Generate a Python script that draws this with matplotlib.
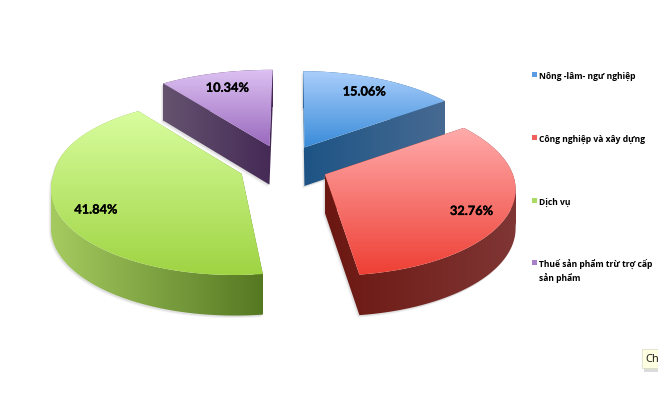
import numpy as np
import matplotlib
matplotlib.use("Agg")
import matplotlib.pyplot as plt
import matplotlib.patheffects as pe
from matplotlib.path import Path
from matplotlib.patches import PathPatch, Rectangle
from matplotlib.colors import to_rgb

# ---- data ----
labels = ["Nông -lâm- ngư nghiệp", "Công nghiệp và xây dựng", "Dịch vụ",
          "Thuế sản phẩm trừ trợ cấp\nsản phẩm"]
shares = [15.06, 32.76, 41.84, 10.34]
value_labels = ["15.06%", "32.76%", "41.84%", "10.34%"]

# ---- styles ----
top_light = ["#ABCFFC", "#FFABAB", "#D8FD9E", "#DDC2F2"]
top_deep = ["#3A8CD9", "#EE3F34", "#9FD443", "#9A69BE"]
side_left = ["#1D5485", "#6C1711", "#A5CB60", "#65536F"]
side_right = ["#476A92", "#7F3634", "#557822", "#442955"]
legend_col = ["#5B9BE6", "#F0605C", "#A9DC62", "#A77FCB"]
label_frac = [0.72, 0.86, 0.87, 0.72]
label_shift = [(4, -5), (-11, 5), (15, 6), (-2, -4)]
draw_order = [3, 0, 2, 1]

W, H = 658, 406
CX, CY = 283.5, 167.0      # pie centre in pixels
RX, RY = 188.0, 87.0       # ellipse radii
K = 0.14                   # perspective strength
SKEW = 0.08                # extra spread of the far-left quadrant
DEPTH = 38.5
EXPLODE = 0.24
START = 89.5               # degrees, going clockwise

fig = plt.figure(figsize=(W / 100, H / 100), dpi=100, facecolor="white")
ax = fig.add_axes([0, 0, 1, 1])
ax.set_xlim(0, W)
ax.set_ylim(H, 0)
ax.axis("off")


def project(apex, t, r=1.0, z=0.0):
    s = np.sin(t)
    c = np.cos(t)
    p = 1.0 / (1.0 + K * r * s)
    c = np.where(c < 0, c * (1 + SKEW * np.maximum(s, 0)), c)
    return (CX + (apex[0] - CX + RX * r * c) * p,
            apex[1] - RY * r * s * p + z * DEPTH * p ** 0.35)


def quads_path(a, b):
    verts, codes = [], []
    for i in range(len(a) - 1):
        q = np.array([a[i], a[i + 1], b[i + 1], b[i]])
        area = 0.5 * np.sum(q[:, 0] * np.roll(q[:, 1], -1) - np.roll(q[:, 0], -1) * q[:, 1])
        if area < 0:
            q = q[::-1]
        verts += [*q, q[0]]
        codes += [Path.MOVETO, Path.LINETO, Path.LINETO, Path.LINETO, Path.CLOSEPOLY]
    return Path(np.array(verts), codes)


def gradient(path, c0, c1, horizontal, extent, zorder):
    c0, c1 = np.array(to_rgb(c0)), np.array(to_rgb(c1))
    f = np.linspace(0, 1, 256)[:, None]
    img = (c0 * (1 - f) + c1 * f)[None, :, :] if horizontal else (c0 * (1 - f) + c1 * f)[:, None, :]
    im = ax.imshow(img, extent=extent, origin="upper", aspect="auto",
                   interpolation="bilinear", zorder=zorder)
    clip = PathPatch(path, transform=ax.transData, fc="none", ec="none", zorder=zorder)
    ax.add_patch(clip)
    im.set_clip_path(clip)


fractions = np.array(shares) / sum(shares)
ends = np.radians(START) - 2 * np.pi * np.cumsum(fractions)
starts = ends + 2 * np.pi * fractions

slices = []
for i in range(len(shares)):
    mid = 0.5 * (starts[i] + ends[i])
    apex = (CX + EXPLODE * RX * np.cos(mid), CY - EXPLODE * RY * np.sin(mid))
    slices.append((apex, mid))

bold = [pe.withStroke(linewidth=0.2, foreground="black")]

for rank, i in enumerate(draw_order):
    apex, mid = slices[i]
    t0, t1 = starts[i], ends[i]
    ta = np.linspace(t0, t1, 120)
    e1 = np.linspace(0, 1, 20)
    ts = np.concatenate([np.full(20, t0), ta, np.full(20, t1)])
    rs = np.concatenate([e1, np.ones(120), e1[::-1]])
    xt, yt = project(apex, ts, rs, 0)
    xb, yb = project(apex, ts, rs, 1)
    top = np.column_stack([xt, yt])
    bot = np.column_stack([xb, yb])
    side = quads_path(top, bot)
    top_path = Path(np.vstack([top, top[0]]), closed=True)
    z = 2 + rank * 3
    # soft shadow
    for off, a in [((-2.0, 2.5), 0.10), ((-1.0, 1.5), 0.16)]:
        sh = quads_path(top + off, bot + off)
        ax.add_patch(PathPatch(sh, fc="#808080", ec="none", alpha=a, zorder=z - 1))
    xmin, xmax = min(xt.min(), xb.min()), max(xt.max(), xb.max())
    ymin, ymax = yt.min(), yt.max()
    gradient(side, side_left[i], side_right[i], True,
             (xmin, xmax, max(yb.max(), ymax) + 1, ymin - 1), z)
    gradient(top_path, top_light[i], top_deep[i], False,
             (xmin, xmax, ymax, ymin), z + 1)
    lx, ly = project(apex, mid, label_frac[i], 0)
    ax.text(lx + label_shift[i][0], ly + label_shift[i][1], value_labels[i],
            ha="center", va="center", fontsize=9.2, fontweight="bold", family="Lato",
            color="black", zorder=40, path_effects=bold)

ax.set_xlim(0, W)
ax.set_ylim(H, 0)

# legend
legend_y = [76, 139, 202, 264]
for name, col, y in zip(labels, legend_col, legend_y):
    ax.add_patch(Rectangle((531.5, y - 3), 5, 5, fc=col, ec="none", zorder=40))
    ax.text(539, y - 4.5, name, ha="left", va="top", fontsize=6.15, fontweight="bold",
            family="Open Sans", color="black", linespacing=1.45, zorder=40)

# tooltip fragment at the lower right
ax.add_patch(Rectangle((644, 352), 16, 21, fc="#B0B0B0", ec="none", alpha=0.45, zorder=41))
ax.add_patch(Rectangle((642, 350), 18, 19, fc="#FFFFE1", ec="#D8D8C0", lw=0.5, zorder=42))
ax.text(645, 359.5, "Ch", ha="left", va="center", fontsize=8, family="Noto Sans",
        color="#222222", zorder=43, clip_on=True)

fig.savefig("out.png", dpi=100, facecolor="white")
